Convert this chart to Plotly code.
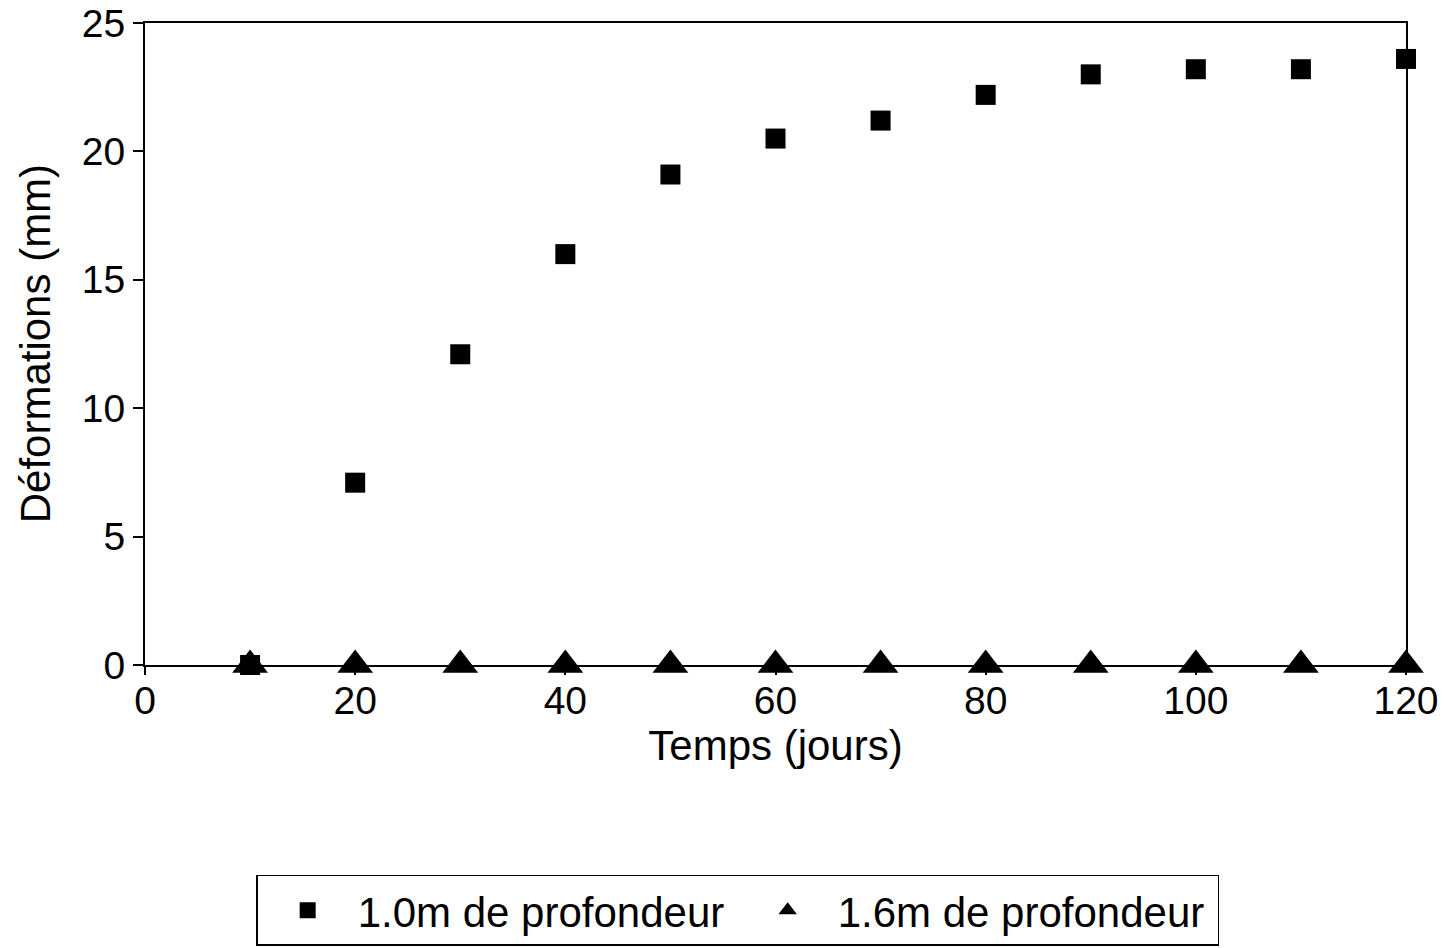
import plotly.graph_objects as go

days = [10, 20, 30, 40, 50, 60, 70, 80, 90, 100, 110, 120]
def_1m0 = [0.0, 7.1, 12.1, 16.0, 19.1, 20.5, 21.2, 22.2, 23.0, 23.2, 23.2, 23.6]
def_1m6 = [0.0, 0.0, 0.0, 0.0, 0.0, 0.0, 0.0, 0.0, 0.0, 0.0, 0.0, 0.0]

FONT = "Liberation Sans, Arial, Helvetica, sans-serif"

fig = go.Figure()
fig.add_trace(go.Scatter(
    x=days, y=def_1m0, mode="markers", name="1.0m de profondeur",
    marker=dict(symbol="square", size=20, color="black"),
    cliponaxis=False,
))
fig.add_trace(go.Scatter(
    x=days, y=def_1m6, mode="markers", name="1.6m de profondeur",
    marker=dict(symbol="triangle-up", size=31, color="black"),
    cliponaxis=False,
))

fig.update_layout(
    width=1446, height=948,
    margin=dict(l=145, r=40, t=23, b=283, autoexpand=False),
    paper_bgcolor="white", plot_bgcolor="white",
    font=dict(family=FONT, size=39, color="black"),
    showlegend=True,
    legend=dict(
        orientation="h", x=0.47, xanchor="center", y=-0.327, yanchor="top",
        bordercolor="black", borderwidth=1.5, font=dict(size=42),
        itemwidth=90, entrywidth=375, itemsizing="trace",
    ),
    xaxis=dict(
        range=[0, 120], tickvals=[0, 20, 40, 60, 80, 100, 120],
        showgrid=False, zeroline=False, showline=True, linecolor="black",
        linewidth=2, mirror=True, ticks="outside", ticklen=8, tickwidth=1.5,
        tickcolor="black", tickfont=dict(size=39), automargin=False,
        ticklabelstandoff=-8,
        title=dict(text="Temps (jours)", font=dict(size=42), standoff=3),
    ),
    yaxis=dict(
        range=[0, 25], tickvals=[0, 5, 10, 15, 20, 25],
        showgrid=False, zeroline=False, showline=True, linecolor="black",
        linewidth=2, mirror=True, ticks="outside", ticklen=10, tickwidth=1.5,
        tickcolor="black", tickfont=dict(size=39), automargin=False,
    ),
    annotations=[dict(
        text="Déformations (mm)", textangle=-90, font=dict(size=42),
        xref="paper", yref="paper", x=-0.087, y=0.5,
        xanchor="center", yanchor="middle", showarrow=False,
    )],
)

fig.write_html("out.html")
